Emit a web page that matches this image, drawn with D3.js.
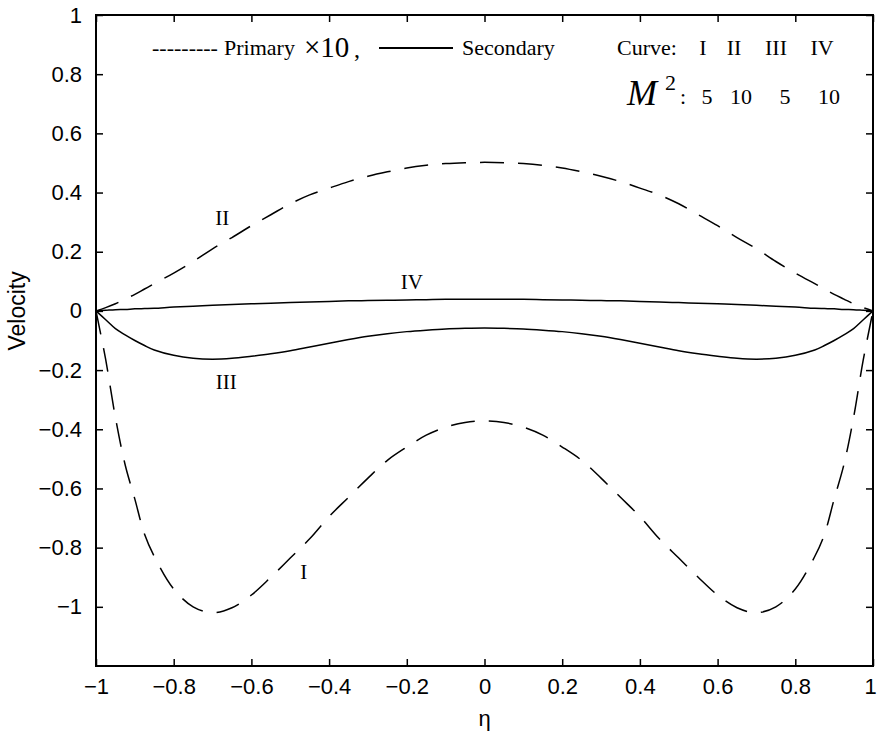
<!DOCTYPE html>
<html>
<head>
<meta charset="utf-8">
<script src="https://cdn.jsdelivr.net/npm/d3@7"></script>
<style>
  html, body { margin: 0; padding: 0; background: #fff; }
  svg { display: block; }
  .tick text { font-family: "Liberation Sans", Arial, sans-serif; font-size: 22px; fill: #000; }
  .serif { font-family: "Liberation Serif", "Times New Roman", serif; fill: #000; }
</style>
</head>
<body>
<svg id="chart" width="877" height="734"></svg>
<script>
// Dimensionless coordinate across the channel
const eta = [-1, -0.975, -0.95, -0.925, -0.9, -0.875, -0.85, -0.8, -0.75, -0.7, -0.65, -0.6, -0.55, -0.5,
  -0.45, -0.4, -0.35, -0.3, -0.25, -0.2, -0.15, -0.1, -0.05, 0,
  0.05, 0.1, 0.15, 0.2, 0.25, 0.3, 0.35, 0.4, 0.45, 0.5, 0.55, 0.6, 0.65, 0.7, 0.75, 0.8,
  0.85, 0.875, 0.9, 0.925, 0.95, 0.975, 1];

// Primary velocity (x10), M^2 = 5  -> curve I
const primaryM5 = [0, -0.165, -0.36, -0.52, -0.636, -0.755, -0.83, -0.94, -1.0, -1.02, -1.003, -0.96, -0.90, -0.835,
  -0.77, -0.695, -0.63, -0.565, -0.505, -0.46, -0.42, -0.393, -0.377, -0.372,
  -0.377, -0.393, -0.42, -0.46, -0.505, -0.565, -0.63, -0.695, -0.77, -0.835, -0.90, -0.96, -1.003, -1.02, -1.0, -0.94,
  -0.83, -0.755, -0.636, -0.52, -0.36, -0.165, 0];

// Primary velocity (x10), M^2 = 10 -> curve II
const primaryM10 = [0, 0.011, 0.024, 0.04, 0.056, 0.074, 0.092, 0.128, 0.167, 0.21, 0.248, 0.288, 0.325, 0.362,
  0.392, 0.415, 0.437, 0.455, 0.47, 0.483, 0.492, 0.498, 0.501, 0.502,
  0.501, 0.498, 0.492, 0.483, 0.47, 0.455, 0.437, 0.415, 0.392, 0.362, 0.325, 0.288, 0.248, 0.21, 0.167, 0.128,
  0.092, 0.074, 0.056, 0.04, 0.024, 0.011, 0];

// Secondary velocity, M^2 = 5 -> curve III
const secondaryM5 = [0, -0.03, -0.06, -0.081, -0.10, -0.117, -0.132, -0.150, -0.160, -0.163, -0.160, -0.153, -0.145, -0.135,
  -0.122, -0.109, -0.097, -0.086, -0.077, -0.070, -0.065, -0.061, -0.059, -0.058,
  -0.059, -0.061, -0.065, -0.070, -0.077, -0.086, -0.097, -0.109, -0.122, -0.135, -0.145, -0.153, -0.160, -0.163, -0.160, -0.150,
  -0.132, -0.117, -0.10, -0.081, -0.06, -0.03, 0];

// Secondary velocity, M^2 = 10 -> curve IV
const secondaryM10 = [0, 0.002, 0.004, 0.005, 0.007, 0.008, 0.009, 0.013, 0.016, 0.019, 0.022, 0.024, 0.026, 0.028,
  0.030, 0.032, 0.034, 0.035, 0.036, 0.037, 0.038, 0.039, 0.039, 0.039,
  0.039, 0.039, 0.038, 0.037, 0.036, 0.035, 0.034, 0.032, 0.030, 0.028, 0.026, 0.024, 0.022, 0.019, 0.016, 0.013,
  0.009, 0.008, 0.007, 0.005, 0.004, 0.002, 0];

const xTicks = [-1, -0.8, -0.6, -0.4, -0.2, 0, 0.2, 0.4, 0.6, 0.8, 1];
const yTicks = [-1, -0.8, -0.6, -0.4, -0.2, 0, 0.2, 0.4, 0.6, 0.8, 1];

const curveNames = ["I", "II", "III", "IV"];
const magnetic = ["5", "10", "5", "10"];

const svg = d3.select("#chart");
const margin = { left: 96, right: 4, top: 15, bottom: 68 };
const W = 877, H = 734;
const x = d3.scaleLinear().domain([-1, 1]).range([margin.left, W - margin.right]);
const y = d3.scaleLinear().domain([-1.2, 1]).range([H - margin.bottom, margin.top]);

const fmt = d => d === 0 ? "0" : (d < 0 ? "\u2212" : "") + String(Math.abs(d));

// Axes with inward ticks on all four sides
const tickLen = 7;
const gx = svg.append("g").attr("transform", `translate(0,${y(-1.2)})`)
  .call(d3.axisBottom(x).tickValues(xTicks).tickFormat(fmt).tickSize(-tickLen).tickPadding(15));
const gxTop = svg.append("g").attr("transform", `translate(0,${y(1)})`)
  .call(d3.axisTop(x).tickValues(xTicks).tickFormat("").tickSize(-tickLen));
const gy = svg.append("g").attr("transform", `translate(${x(-1)},0)`)
  .call(d3.axisLeft(y).tickValues(yTicks).tickFormat(fmt).tickSize(-tickLen).tickPadding(14));
const gyR = svg.append("g").attr("transform", `translate(${x(1)},0)`)
  .call(d3.axisRight(y).tickValues(yTicks).tickFormat("").tickSize(-tickLen));
[gx, gxTop, gy, gyR].forEach(g => {
  g.selectAll(".domain").remove();
  g.selectAll(".tick line").attr("stroke", "#000").attr("stroke-width", 1.5);
});
gx.selectAll(".tick text").attr("dy", "0.6em");
// keep the last x label inside the canvas
gx.selectAll(".tick text").filter(d => d === 1).attr("text-anchor", "end").attr("dx", "0.15em");

// Frame
svg.append("rect")
  .attr("x", x(-1)).attr("y", y(1))
  .attr("width", x(1) - x(-1)).attr("height", y(-1.2) - y(1))
  .attr("fill", "none").attr("stroke", "#000").attr("stroke-width", 2);

// Axis titles
svg.append("text")
  .attr("x", x(0)).attr("y", 726)
  .attr("text-anchor", "middle")
  .style("font-family", "'Liberation Sans', Arial, sans-serif").style("font-size", "22px")
  .text("\u03b7");
svg.append("text")
  .attr("transform", `translate(25,${y(0)}) rotate(-90)`)
  .attr("text-anchor", "middle")
  .style("font-family", "'Liberation Sans', Arial, sans-serif").style("font-size", "23px")
  .text("Velocity");

// Curves
const line = d3.line().x((d, i) => x(eta[i])).y(d => y(d)).curve(d3.curveCatmullRom.alpha(0.5));
const series = [
  { values: primaryM5, dash: "24,14" },
  { values: primaryM10, dash: "24,14" },
  { values: secondaryM5, dash: null },
  { values: secondaryM10, dash: null }
];
svg.append("g").selectAll("path").data(series).join("path")
  .attr("d", d => line(d.values))
  .attr("fill", "none")
  .attr("stroke", "#000")
  .attr("stroke-width", 1.5)
  .attr("stroke-dasharray", d => d.dash);

// Curve labels
const labels = [
  { t: curveNames[0], px: -0.465, py: -0.905 },
  { t: curveNames[1], px: -0.675, py: 0.29 },
  { t: curveNames[2], px: -0.665, py: -0.265 },
  { t: curveNames[3], px: -0.187, py: 0.075 }
];
svg.append("g").selectAll("text").data(labels).join("text")
  .attr("class", "serif")
  .attr("x", d => x(d.px)).attr("y", d => y(d.py))
  .attr("text-anchor", "middle")
  .style("font-size", "21px")
  .text(d => d.t);

// Line-style legend
const leg = svg.append("g").attr("class", "serif").style("font-size", "22px");
leg.append("text").attr("x", 152).attr("y", 55).text("---------");
leg.append("text").attr("x", 224).attr("y", 55).text("Primary");
leg.append("text").attr("x", 304).attr("y", 57).style("font-size", "29px").text("\u00d710");
leg.append("text").attr("x", 354).attr("y", 57).style("font-size", "24px").text(",");
leg.append("line").attr("x1", 379).attr("x2", 453).attr("y1", 48).attr("y2", 48)
  .attr("stroke", "#000").attr("stroke-width", 1.8);
leg.append("text").attr("x", 462).attr("y", 55).text("Secondary");

// Parameter table
const tbl = svg.append("g").attr("class", "serif").style("font-size", "22px");
tbl.append("text").attr("x", 617).attr("y", 55).text("Curve:");
const nameX = [703, 734, 776, 822];
const valX = [707, 741, 785, 829];
tbl.selectAll("text.cn").data(curveNames).join("text").attr("class", "cn")
  .attr("x", (d, i) => nameX[i]).attr("y", 55).attr("text-anchor", "middle").text(d => d);
tbl.append("text").attr("x", 627).attr("y", 105).style("font-size", "36px").style("font-style", "italic").text("M");
tbl.append("text").attr("x", 665).attr("y", 90).style("font-size", "22px").text("2");
tbl.append("text").attr("x", 680).attr("y", 104).text(":");
tbl.selectAll("text.mv").data(magnetic).join("text").attr("class", "mv")
  .attr("x", (d, i) => valX[i]).attr("y", 104).attr("text-anchor", "middle").text(d => d);
</script>
</body>
</html>
